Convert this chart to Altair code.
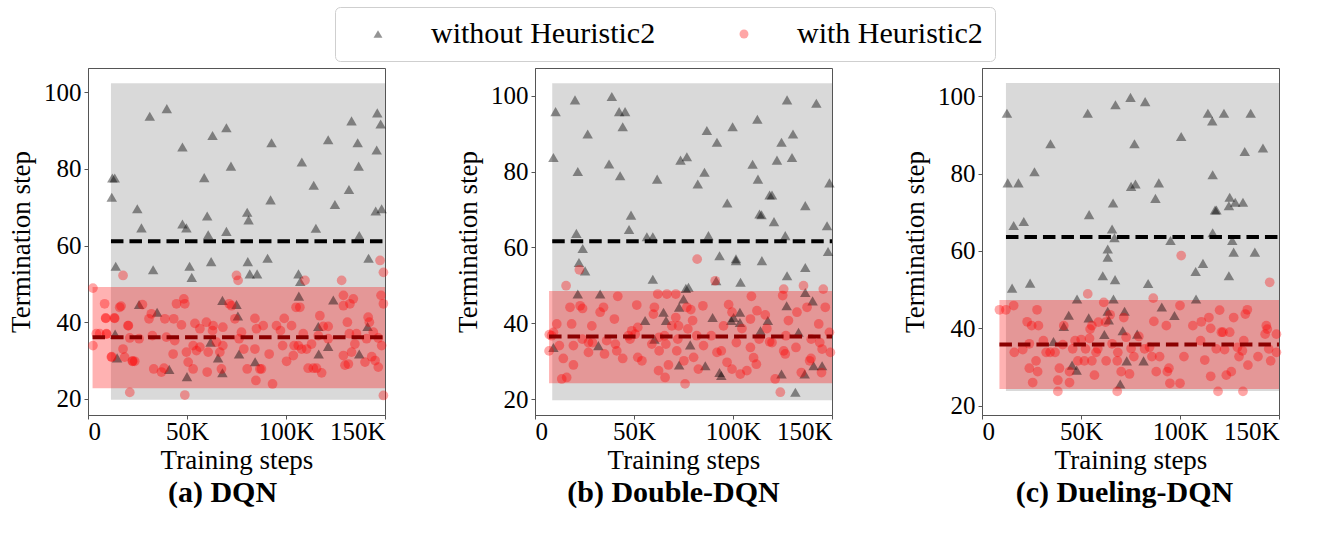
import altair as alt
import pandas as pd

FONT = "Liberation Serif"
WITHOUT = "without Heuristic2"
WITH = "with Heuristic2"
SERIES = [WITHOUT, WITH]

# Training steps are in thousands (K), termination step as read per episode.
# ---- (a) DQN ----
dqn_tri_x = [12.3, 13.5, 12.0, 31.2, 39.8, 47.7, 62.9, 69.9, 58.7, 72.2, 24.9, 27.0, 47.7, 49.7, 60.2, 60.7,
             69.9, 80.4, 81.1, 92.2, 92.7, 108.0, 114.0, 115.1, 121.3, 124.7, 133.1, 131.8, 136.2, 136.7, 146.1,
             147.8, 145.8, 145.3, 148.3, 137.0, 14.0, 32.9, 51.3, 52.4, 62.2, 80.7, 81.7, 85.4, 90.7, 106.3, 107.2,
             141.7, 25.8, 34.9, 67.9, 75.0, 75.7, 13.7, 14.7, 41.0, 50.0, 61.9, 65.7, 67.9, 76.3, 84.4, 106.5,
             116.3, 116.5, 121.3, 123.9, 137.0, 141.2]
dqn_tri_y = [77.6, 77.6, 72.6, 93.7, 95.7, 85.7, 88.7, 90.7, 77.7, 80.7, 69.6, 64.6, 65.6, 64.6, 67.7, 62.8,
             63.7, 68.7, 66.7, 71.9, 86.8, 81.8, 75.7, 64.5, 87.6, 70.7, 92.5, 74.6, 86.8, 80.7, 94.6,
             91.7, 84.9, 69.0, 69.6, 62.6, 54.6, 53.7, 54.6, 51.7, 55.8, 55.8, 52.6, 52.6, 56.7, 52.6, 50.6,
             56.7, 44.6, 42.6, 45.7, 44.6, 41.6, 36.9, 30.7, 27.7, 25.8, 34.8, 30.7, 26.8, 31.7, 29.7, 46.8,
             38.9, 31.7, 33.7, 45.8, 31.7, 38.9]
dqn_dot_x = [2.5, 2.5, 4.2, 5.9, 8.4, 9.0, 9.3, 11.8, 13.5, 16.0, 17.7, 17.7, 18.5, 20.2, 21.1, 21.1, 22.4, 23.6,
             25.8, 27.5, 30.8, 32.0, 32.5, 33.2, 37.1, 38.4, 38.8, 39.6, 43.0, 43.3, 43.8, 44.7, 47.2, 48.4, 48.9,
             48.9, 49.7, 50.6, 53.1, 53.1, 54.0, 54.8, 56.5, 56.5, 59.8, 60.2, 60.7, 62.9, 63.2, 64.9, 66.6, 67.4,
             68.1, 68.1, 71.3, 72.5, 74.2, 75.0, 75.8, 76.3, 77.5, 78.7, 80.4, 84.3, 84.3, 84.8, 85.1, 86.8, 88.5,
             87.6, 93.2, 91.5, 95.2, 97.2, 98.3, 99.1, 100.3, 102.8, 103.7, 104.1, 105.1, 106.2, 107.0, 107.9,
             108.7, 109.6, 110.4, 111.2, 112.9, 113.8, 115.4, 116.3, 117.1, 118.0, 118.8, 121.3, 121.3, 128.1,
             129.0, 129.0, 129.0, 129.8, 131.0, 132.0, 131.5, 132.3, 134.0, 133.1, 134.8, 135.6, 139.9, 140.7,
             141.5, 142.1, 143.3, 145.0, 146.6, 147.5, 148.0, 149.2, 149.2, 148.3, 149.2, 146.6, 144.1, 16.7,
             8.9, 13.3, 20.4, 12.0, 22.6, 9.4]
dqn_dot_y = [48.9, 33.9, 37.0, 37.0, 44.8, 41.0, 37.0, 30.9, 41.0, 43.9, 52.2, 33.0, 30.9, 39.1, 35.9, 21.7, 29.8, 29.8,
             35.7, 44.6, 40.9, 42.2, 36.5, 27.8, 27.0, 28.0, 40.9, 36.1, 31.7, 40.9, 35.2, 44.8, 39.3, 46.1, 44.8,
             21.0, 32.2, 29.6, 27.8, 33.9, 39.7, 32.6, 38.3, 33.5, 40.0, 27.0, 32.2, 37.8, 39.1, 34.8, 32.2, 27.8,
             33.9, 38.7, 44.8, 44.3, 40.9, 52.2, 50.9, 35.7, 37.4, 33.0, 27.8, 41.0, 33.0, 24.8, 38.3, 27.8, 39.1,
             27.8, 23.9, 31.7, 39.1, 37.8, 33.9, 41.0, 29.8, 39.1, 31.3, 33.9, 43.9, 33.9, 43.9, 33.0,
             37.0, 50.9, 33.0, 28.0, 34.3, 28.0, 28.0, 36.5, 41.7, 26.8, 38.9, 38.9, 35.7, 50.9,
             47.0, 44.3, 31.3, 28.8, 40.0, 37.0, 29.1, 44.8, 46.1, 32.2, 34.3, 37.0, 29.6, 35.7,
             41.3, 40.0, 31.0, 30.0, 28.3, 56.1, 47.0, 53.0, 44.8, 33.9, 20.9, 35.9, 37.4, 44.2,
             41.1, 41.1, 39.1, 31.0, 29.9, 36.9]

# ---- (b) Double-DQN ----
ddqn_tri_x = [9.3, 10.4, 20.2, 21.6, 20.9, 24.1, 22.2, 25.3, 26.6, 38.8, 37.4, 43.0, 42.5, 45.5, 44.3, 48.5, 47.5,
              56.5, 59.5, 61.7, 59.5, 55.6, 73.5, 76.7, 82.2, 85.6, 86.8, 91.9, 97.1, 99.8, 87.6, 93.2, 101.5,
              103.8, 91.5, 89.7, 109.9, 112.6, 112.3, 113.4, 114.4, 118.5, 119.7, 120.7, 124.5, 122.2, 114.6,
              127.3, 130.3, 129.8, 136.5, 142.1, 126.4, 127.3, 136.5, 147.5, 148.7, 148.0, 76.2, 77.5, 75.0, 72.8,
              64.9, 66.2, 60.3, 93.2, 94.1, 86.0, 78.4, 72.8, 32.9, 32.0, 21.6, 9.3, 99.1, 103.5, 103.5, 100.3,
              113.9, 117.6, 124.5, 127.1, 133.1, 131.5, 136.5, 136.2, 140.7, 145.0, 140.2, 101.5]
ddqn_tri_y = [83.7, 95.8, 98.9, 80.0, 63.7, 59.7, 56.0, 53.8, 89.9, 99.8, 82.0, 78.9, 95.8, 95.8, 91.8, 68.5, 64.7,
              62.8, 62.8, 78.0, 51.6, 40.7, 83.0, 83.9, 76.7, 79.8, 90.8, 87.7, 71.7, 91.8, 63.1, 57.8, 56.5,
              50.8, 51.2, 41.5, 81.9, 78.0, 93.8, 68.8, 68.6, 73.8, 73.8, 66.8, 87.7, 83.0, 56.5,
              98.9, 89.9, 83.7, 71.0, 98.0, 63.1, 52.5, 54.7, 65.7, 77.0, 58.9, 49.2, 49.5, 46.4, 44.2,
              42.9, 40.7, 35.8, 27.0, 26.2, 28.8, 34.3, 29.0, 47.7, 34.1, 47.7, 33.6, 40.7, 42.9, 40.2, 41.5,
              38.0, 40.7, 26.6, 44.6, 37.6, 21.8, 48.1, 26.6, 28.8, 28.8, 45.9, 57.0]
ddqn_dot_x = [7.2, 7.1, 9.3, 12.3, 13.5, 14.3, 16.0, 15.7, 17.7, 18.5, 19.4, 19.4, 22.4, 22.8, 24.0, 23.9, 27.0, 27.0,
              28.7, 29.0, 32.9, 34.6, 35.1, 36.2, 40.1, 40.6, 41.3, 41.8, 44.3, 47.2, 48.0, 48.9, 50.6, 51.4, 51.9,
              51.9, 54.0, 59.0, 59.8, 60.3, 62.0, 62.4, 62.7, 62.7, 65.4, 66.1, 66.6, 65.7, 67.4, 69.1, 71.1, 71.1,
              71.6, 72.1, 72.5, 75.2, 75.8, 76.7, 77.2, 78.7, 79.6, 80.1, 81.7, 82.5, 85.1, 84.8, 81.9, 91.0, 89.0,
              91.9, 94.1, 95.2, 97.0, 97.8, 99.5, 99.5, 101.7, 103.7, 104.5, 107.0, 108.8, 109.3, 108.8, 110.4,
              111.8, 112.1, 113.2, 116.3, 117.1, 118.5, 119.7, 121.3, 123.9, 125.6, 125.1, 125.6, 126.4, 126.7,
              128.0, 132.3, 131.8, 134.5, 135.6, 137.4, 138.7, 139.4, 139.5, 143.3, 143.8, 145.0, 144.7, 145.6,
              146.6, 148.7, 149.2, 8.4, 11.0]
ddqn_dot_y = [37.0, 32.7, 37.6, 34.1, 25.3, 30.7, 25.7, 49.9, 44.2, 39.8, 34.1, 29.0, 54.1, 44.6, 43.9, 35.8, 34.9, 32.3,
              39.3, 34.9, 42.9, 44.2, 31.9, 35.4, 41.1, 34.5, 32.7, 47.1, 30.7, 36.7, 35.8, 38.0, 37.1, 44.8, 38.9,
              31.0, 30.1, 34.5, 42.4, 44.2, 47.7, 27.5, 36.3, 32.7, 36.7, 34.5, 47.7, 25.7, 29.0, 39.3, 47.7, 41.5,
              32.7, 35.8, 39.3, 30.1, 24.0, 44.2, 38.5, 43.6, 40.7, 31.0, 36.7, 27.9, 34.1, 44.6, 56.9, 51.2, 36.7,
              32.3, 32.7, 39.3, 29.7, 44.9, 27.9, 42.9, 34.9, 26.6, 38.6, 27.5, 41.1, 47.1, 33.6, 30.9,
              29.2, 43.3, 35.8, 42.2, 38.6, 35.1, 34.9, 25.3, 21.8, 49.0, 47.3, 32.7, 31.9, 36.7,
              40.7, 42.9, 33.6, 27.0, 49.9, 44.2, 30.1, 30.7, 35.8, 39.8, 34.9, 33.2, 27.0, 49.0,
              44.2, 37.6, 32.3, 36.7, 39.8]

# ---- (c) Dueling-DQN ----
duel_tri_x = [12.6, 13.0, 18.4, 16.0, 21.1, 26.5, 15.2, 24.3, 34.6, 53.4, 67.4, 75.0, 82.4, 54.1, 77.0, 75.3, 77.5,
              66.2, 65.7, 66.9, 63.5, 63.5, 61.0, 67.2, 87.6, 89.3, 100.6, 114.1, 116.3, 122.2, 135.7, 132.7,
              141.9, 116.5, 117.7, 118.4, 125.1, 124.7, 127.9, 131.8, 116.5, 126.4, 127.1, 137.8, 95.2, 107.9,
              111.6, 124.7, 83.9, 108.1, 66.4, 48.0, 43.8, 41.3, 53.9, 63.5, 72.0, 64.0, 61.8, 71.1, 78.4, 90.8,
              97.2, 36.1, 45.5, 47.8, 73.1, 81.6, 69.8]
duel_tri_y = [95.6, 77.6, 77.6, 66.6, 67.6, 80.5, 50.4, 51.7, 87.7, 95.6, 97.8, 99.7, 98.6, 69.4, 87.7, 76.7, 77.3,
              72.4, 65.7, 63.4, 60.5, 58.4, 53.6, 52.6, 73.6, 77.6, 89.6, 95.6, 93.6, 95.6, 95.6, 85.7,
              86.6, 79.7, 70.6, 70.6, 73.9, 71.7, 72.6, 72.6, 64.7, 62.7, 59.7, 59.7, 62.7, 54.7,
              56.8, 53.6, 51.6, 47.6, 47.6, 47.6, 43.4, 40.5, 42.7, 44.4, 44.4, 42.2, 38.4, 39.4, 38.5, 45.5,
              43.3, 36.6, 30.5, 29.2, 31.6, 31.6, 25.6]
duel_dot_x = [8.8, 12.1, 16.0, 16.3, 20.6, 22.8, 23.9, 23.9, 25.6, 25.1, 27.8, 27.3, 28.1, 28.5, 31.0, 32.4, 34.4,
              36.9, 38.3, 38.3, 39.1, 40.8, 41.3, 44.2, 44.2, 45.8, 47.0, 48.4, 50.1, 51.7, 52.3, 53.4, 54.3, 54.6,
              55.5, 55.5, 56.8, 57.6, 58.5, 58.8, 61.5, 62.4, 62.7, 64.7, 65.7, 68.3, 68.3, 68.6, 70.3, 71.6, 72.8,
              74.5, 75.3, 76.7, 79.2, 82.1, 84.6, 85.8, 86.8, 86.5, 88.0, 89.7, 93.1, 93.6, 94.4, 94.9, 100.0,
              100.0, 100.6, 102.0, 106.5, 110.4, 110.8, 112.5, 114.6, 115.5, 115.5, 118.3, 119.2, 120.0, 120.9,
              121.7, 122.5, 123.4, 125.9, 127.1, 125.1, 129.0, 129.8, 131.5, 131.8, 132.2, 133.0, 134.0, 134.3,
              139.4, 143.0, 143.6, 144.8, 145.8, 145.3, 148.7, 148.7, 144.1]
duel_dot_y = [44.8, 44.8, 45.9, 33.8, 34.5, 41.7, 36.0, 29.7, 26.0, 40.7, 44.8, 31.6, 28.8, 40.7, 36.8, 33.8, 33.8,
              33.8, 26.6, 23.7, 29.7, 35.8, 40.7, 26.0, 28.8, 34.7, 36.8, 31.6, 37.1, 31.6, 34.7, 48.9, 37.4, 39.8,
              40.7, 31.6, 27.9, 33.8, 34.7, 41.6, 46.7, 41.6, 31.6, 43.5, 36.0, 31.6, 23.7, 33.8, 28.8, 42.8, 37.7,
              28.2, 34.8, 32.7, 37.9, 34.7, 35.1, 32.7, 41.8, 47.8, 28.8, 32.7, 40.7, 28.8, 29.7, 25.8, 25.8,
              45.9, 58.8, 32.7, 40.7, 36.8, 41.7, 31.8, 42.8, 40.0, 27.6, 34.7, 23.7, 44.7, 39.0,
              39.0, 34.5, 27.9, 28.8, 42.8, 39.0, 35.1, 32.7, 34.2, 23.7, 36.8, 43.7, 44.8, 30.5,
              32.7, 38.5, 40.7, 34.7, 31.6, 51.9, 38.5, 33.8, 39.8]

# Per-panel summary: mean lines and mean +/- spread bands, each starting at the first episode
panel_titles = ["(a) DQN", "(b) Double-DQN", "(c) Dueling-DQN"]
start_without = [11.6, 8.7, 12.1]
start_with = [2.3, 7.1, 8.8]
mean_without = [61.1, 61.6, 63.6]
mean_with = [36.1, 36.5, 35.8]
band_lo_without = [19.8, 19.7, 23.8]
band_hi_without = [102.3, 103.3, 103.4]
band_lo_with = [22.8, 24.2, 24.3]
band_hi_with = [49.2, 48.5, 47.3]
y_domains = [[15.8, 106.3], [15.8, 107.3], [17.6, 107.3]]
x_ticks = [0, 50, 100, 150]
y_ticks = [20, 40, 60, 80, 100]
x_end = 150
title_dx = [-14, -10, -6]

legend = alt.Legend(
    title=" ", titleOrient="left", titlePadding=16, titleFontSize=4,
    orient="none", legendX=247, legendY=-61, direction="horizontal",
    labelFont=FONT, labelFontSize=30, labelColor="black", labelLimit=400,
    symbolSize=80, labelOffset=38, columnPadding=73, strokeColor="#cfcfcf",
    cornerRadius=5, padding=12, fillColor="white", symbolStrokeWidth=0,
)
color_scale = alt.Scale(domain=SERIES, range=["black", "red"])
shape_scale = alt.Scale(domain=SERIES, range=["triangle-up", "circle"])
opacity_scale = alt.Scale(domain=SERIES, range=[0.42, 0.35])


def panel(i, tri_x, tri_y, dot_x, dot_y):
    xs = alt.Scale(domain=[0, x_end], nice=False, zero=False)
    ys = alt.Scale(domain=y_domains[i], nice=False, zero=False)
    x_axis = alt.Axis(values=x_ticks, title="Training steps",
                      labelExpr="datum.value == 0 ? '0' : datum.value + 'K'")
    y_axis = alt.Axis(values=y_ticks, title="Termination step")

    tri = pd.DataFrame({"step": tri_x, "term": tri_y, "series": WITHOUT})
    dot = pd.DataFrame({"step": dot_x, "term": dot_y, "series": WITH})
    band_without = pd.DataFrame({"x0": [start_without[i]], "x1": [x_end],
                                 "lo": [band_lo_without[i]], "hi": [band_hi_without[i]],
                                 "mean": [mean_without[i]]})
    band_with = pd.DataFrame({"x0": [start_with[i]], "x1": [x_end],
                              "lo": [band_lo_with[i]], "hi": [band_hi_with[i]],
                              "mean": [mean_with[i]]})

    gray_band = alt.Chart(band_without).mark_rect(color="gray", opacity=0.3).encode(
        x=alt.X("x0:Q", scale=xs, axis=x_axis), x2="x1",
        y=alt.Y("lo:Q", scale=ys, axis=y_axis), y2="hi")
    red_band = alt.Chart(band_with).mark_rect(color="red", opacity=0.3).encode(
        x=alt.X("x0:Q", scale=xs), x2="x1", y=alt.Y("lo:Q", scale=ys), y2="hi")

    def points(df, size):
        return alt.Chart(df).mark_point(filled=True, strokeWidth=0, size=size).encode(
            x=alt.X("step:Q", scale=xs),
            y=alt.Y("term:Q", scale=ys),
            color=alt.Color("series:N", scale=color_scale, legend=legend),
            shape=alt.Shape("series:N", scale=shape_scale, legend=legend),
            opacity=alt.Opacity("series:N", scale=opacity_scale, legend=legend),
        )

    mean_black = alt.Chart(band_without).mark_rule(
        color="black", strokeWidth=4, strokeDash=[12.5, 6]).encode(
        x=alt.X("x0:Q", scale=xs), x2="x1", y=alt.Y("mean:Q", scale=ys))
    mean_red = alt.Chart(band_with).mark_rule(
        color="#8b0000", strokeWidth=4, strokeDash=[12.5, 6]).encode(
        x=alt.X("x0:Q", scale=xs), x2="x1", y=alt.Y("mean:Q", scale=ys))

    return alt.layer(
        gray_band, red_band, points(tri, 110), points(dot, 95), mean_black, mean_red
    ).properties(
        width=297, height=347,
        title=alt.TitleParams(panel_titles[i], orient="bottom", font=FONT, fontSize=30,
                              fontWeight="bold", color="black", dx=title_dx[i], offset=5),
    )


chart = alt.hconcat(
    panel(0, dqn_tri_x, dqn_tri_y, dqn_dot_x, dqn_dot_y),
    panel(1, ddqn_tri_x, ddqn_tri_y, ddqn_dot_x, ddqn_dot_y),
    panel(2, duel_tri_x, duel_tri_y, duel_dot_x, duel_dot_y),
    spacing=65,
).resolve_scale(
    x="independent", y="independent"
).properties(
    padding={"left": 7, "top": 6, "right": 5, "bottom": 5}, background="white"
).configure_axis(
    labelFont=FONT, labelFontSize=25, labelColor="black",
    titleFont=FONT, titleFontSize=27, titleFontWeight="normal", titleColor="black",
    grid=False, tickColor="#555", domainColor="#555", tickSize=4,
).configure_axisX(labelPadding=0, titlePadding=3).configure_axisY(
    labelPadding=3, titlePadding=8
).configure_view(
    stroke="#555", strokeWidth=1
)

chart.save("out.html", embed_options={"renderer": "svg", "actions": False})
